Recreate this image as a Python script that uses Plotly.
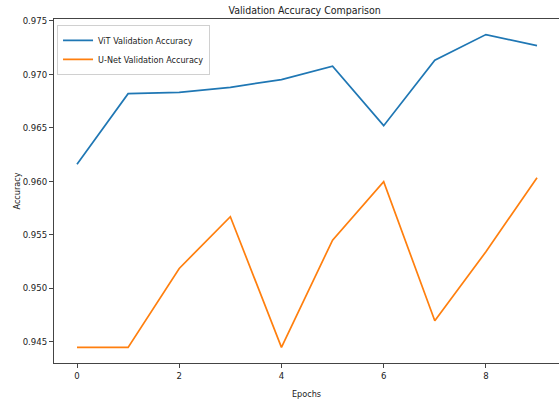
import plotly.graph_objects as go

epochs = list(range(10))
vit_acc = [0.96158, 0.96819, 0.96832, 0.96879, 0.96951, 0.97076, 0.96520, 0.97132, 0.97372, 0.97269]
unet_acc = [0.94445, 0.94445, 0.95184, 0.95668, 0.94445, 0.95449, 0.95995, 0.94694, 0.95340, 0.96033]
y_ticks = [0.945, 0.950, 0.955, 0.960, 0.965, 0.970, 0.975]
x_ticks = [0, 2, 4, 6, 8]

FONT = "DejaVu Sans Condensed, DejaVu Sans, sans-serif"

fig = go.Figure()
fig.add_trace(go.Scatter(x=epochs, y=vit_acc, mode="lines", name="ViT Validation Accuracy",
                         line=dict(color="#1f77b4", width=1.7)))
fig.add_trace(go.Scatter(x=epochs, y=unet_acc, mode="lines", name="U-Net Validation Accuracy",
                         line=dict(color="#ff7f0e", width=1.7)))

fig.update_layout(
    width=559, height=399,
    margin=dict(l=54, r=0, t=19, b=36),
    paper_bgcolor="white", plot_bgcolor="white",
    font=dict(family=FONT, size=9.5, color="#222"),
    title=dict(text="Validation Accuracy Comparison", x=0.545, xanchor="center",
               y=0.975, yanchor="middle", font=dict(size=10.5, color="#222"),
               automargin=False),
    showlegend=True,
    legend=dict(x=0.006, y=0.983, xanchor="left", yanchor="top",
                bgcolor="rgba(255,255,255,0.8)", bordercolor="#d0d0d0", borderwidth=1,
                font=dict(size=9), tracegroupgap=0, itemwidth=30),
)
fig.update_xaxes(range=[-0.45, 9.43], tickvals=x_ticks, ticks="outside", ticklen=4,
                 tickcolor="#444", showline=True, linecolor="#444", linewidth=1, mirror=True,
                 showgrid=False, zeroline=False, automargin=False,
                 title=dict(text="Epochs", standoff=10, font=dict(size=9)))
fig.update_yaxes(range=[0.94299, 0.97518], tickvals=y_ticks, tickformat=".3f",
                 ticks="outside", ticklen=4, tickcolor="#444",
                 showline=True, linecolor="#444", linewidth=1, mirror=False,
                 showgrid=False, zeroline=False, automargin=False,
                 title=dict(text="Accuracy", standoff=0, font=dict(size=9)))

fig.write_html("out.html", config={"displayModeBar": False},
               post_script="document.body.style.margin='0';")
